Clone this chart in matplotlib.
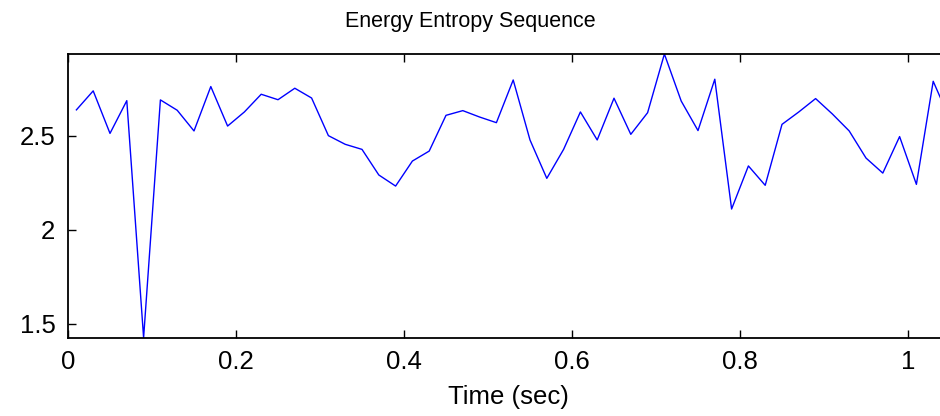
import matplotlib
matplotlib.use("Agg")
import matplotlib.pyplot as plt

time_sec = [0.01, 0.03, 0.05, 0.07, 0.09, 0.11, 0.13, 0.15, 0.17, 0.19,
            0.21, 0.23, 0.25, 0.27, 0.29, 0.31, 0.33, 0.35, 0.37, 0.39,
            0.41, 0.43, 0.45, 0.47, 0.49, 0.51, 0.53, 0.55, 0.57, 0.59,
            0.61, 0.63, 0.65, 0.67, 0.69, 0.71, 0.73, 0.75, 0.77, 0.79,
            0.81, 0.83, 0.85, 0.87, 0.89, 0.91, 0.93, 0.95, 0.97, 0.99,
            1.01, 1.03, 1.05]
entropy = [2.637, 2.738, 2.512, 2.686, 1.426, 2.690, 2.635, 2.525, 2.761, 2.551,
           2.626, 2.720, 2.691, 2.752, 2.700, 2.500, 2.454, 2.427, 2.291, 2.232,
           2.365, 2.418, 2.608, 2.633, 2.599, 2.569, 2.796, 2.477, 2.273, 2.427,
           2.626, 2.477, 2.699, 2.507, 2.622, 2.934, 2.684, 2.527, 2.800, 2.110,
           2.339, 2.236, 2.560, 2.626, 2.697, 2.615, 2.525, 2.381, 2.301, 2.495,
           2.241, 2.789, 2.585]
x_ticks = [0, 0.2, 0.4, 0.6, 0.8, 1.0]
x_tick_labels = ["0", "0.2", "0.4", "0.6", "0.8", "1"]
y_ticks = [1.5, 2.0, 2.5]
y_tick_labels = ["1.5", "2", "2.5"]

plt.rcParams['font.family'] = ['Liberation Sans', 'DejaVu Sans']

W, H = 940, 416
fig = plt.figure(figsize=(W / 100, H / 100), dpi=100)
left, right, top, bottom = 68, 948, 54, 337.7
ax = fig.add_axes([left / W, (H - bottom) / H, (right - left) / W, (bottom - top) / H])

ax.plot(time_sec, entropy, color='#0000ff', linewidth=1.0)
ax.set_xlim(0, (right - left) / 840)
ax.set_ylim(min(entropy), max(entropy))

ax.set_xticks(x_ticks)
ax.set_xticklabels(x_tick_labels)
ax.set_yticks(y_ticks)
ax.set_yticklabels(y_tick_labels)
ax.tick_params(direction='in', length=6, width=1.0, labelsize=18.5, pad=9,
               top=True, right=True, colors='black')
for s in ax.spines.values():
    s.set_linewidth(1.3)

fig.text(470 / W, 1 - 22 / H, "Energy Entropy Sequence", ha='center', va='center', fontsize=15.5)
fig.text(508 / W, 1 - 397 / H, "Time (sec)", ha='center', va='center', fontsize=18.5)

fig.savefig("out.png", dpi=100)
